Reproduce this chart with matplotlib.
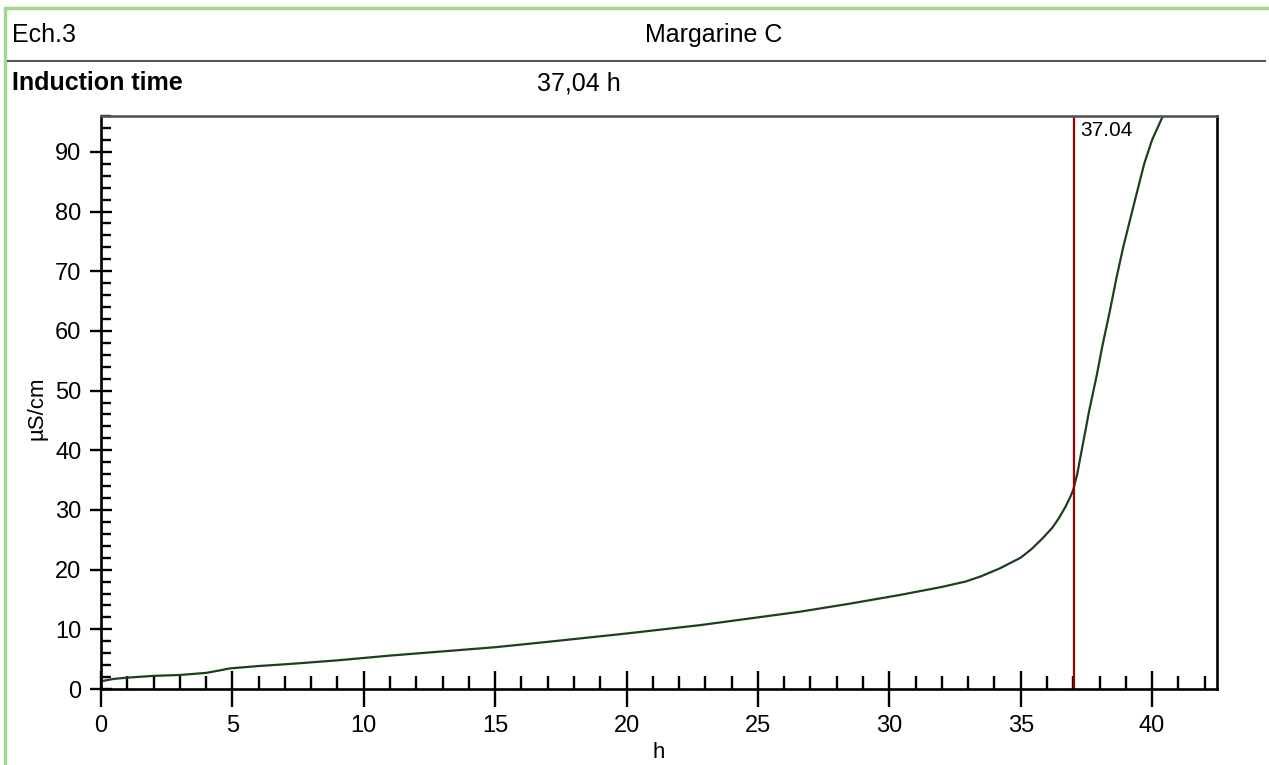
import matplotlib.pyplot as plt
from matplotlib.patches import Rectangle
from matplotlib.lines import Line2D
from matplotlib.ticker import MultipleLocator

plt.rcParams['font.family'] = ['Liberation Sans', 'DejaVu Sans']

# conductivity curve
hours = [0, 0.5, 1, 2, 3, 4, 4.5, 4.9, 6, 7.2, 9, 11, 13, 15, 17, 20, 22.8, 25,
         26.6, 28.5, 30.4, 32, 32.9, 33.5, 34.2, 35, 35.4, 35.8, 36.2, 36.45,
         36.7, 36.9, 37.0, 37.15, 37.3, 37.45, 37.6, 37.75, 37.9, 38.1, 38.4,
         38.65, 38.9, 39.2, 39.4, 39.7, 40.0, 40.4]
conductivity = [1.3, 1.7, 1.9, 2.2, 2.35, 2.7, 3.1, 3.45, 3.85, 4.2, 4.8, 5.6,
                6.3, 7.0, 7.9, 9.3, 10.7, 12.0, 12.95, 14.3, 15.75, 17.1, 18.0,
                18.9, 20.2, 22.0, 23.4, 25.1, 27.0, 28.6, 30.5, 32.3, 33.4,
                36.0, 39.5, 43.0, 46.5, 49.6, 52.7, 57.3, 63.5, 69.0, 74.0,
                79.3, 82.8, 88.0, 92.0, 95.9]
induction_time = 37.04
sample = "Ech.3"
product = "Margarine C"

fig = plt.figure(figsize=(12.69, 7.65), dpi=100)

# green frame round the report
fig.patches.append(Rectangle((5 / 1269, -0.05), 1.2, 1 - 8 / 765 + 0.05,
                             transform=fig.transFigure, fill=False,
                             edgecolor='#a6d68c', linewidth=2.5, zorder=0))
# separator under the header row
fig.lines.append(Line2D([8 / 1269, 1265 / 1269], [1 - 61 / 765, 1 - 61 / 765],
                        transform=fig.transFigure, color='#555555', linewidth=1.5))

fig.text(12 / 1269, 1 - 35 / 765, sample, fontsize=18, va='center', ha='left')
fig.text(645 / 1269, 1 - 35 / 765, product, fontsize=18, va='center', ha='left')
fig.text(12 / 1269, 1 - 83 / 765, "Induction time", fontsize=18,
         fontweight='bold', va='center', ha='left')
fig.text(537 / 1269, 1 - 83 / 765, "37,04 h", fontsize=18, va='center', ha='left')

ax = fig.add_axes([101 / 1269, 76 / 765, 1116 / 1269, 573 / 765])
ax.plot(hours, conductivity, color='#1c401c', linewidth=1.6)
ax.axvline(induction_time, color='#a00000', linewidth=1.6)
ax.text(induction_time + 0.22, 93.6, "37.04", fontsize=15, va='center', ha='left')

ax.set_xlim(0, 42.47)
ax.set_ylim(0, 96)
ax.xaxis.set_major_locator(MultipleLocator(5))
ax.xaxis.set_minor_locator(MultipleLocator(1))
ax.yaxis.set_major_locator(MultipleLocator(10))
ax.yaxis.set_minor_locator(MultipleLocator(2))

ax.tick_params(axis='x', which='major', direction='inout', length=26, width=1.7,
               labelsize=17, pad=6)
ax.tick_params(axis='x', which='minor', direction='in', length=9.5, width=1.7)
ax.tick_params(axis='y', which='major', direction='inout', length=16, width=1.7,
               labelsize=17, pad=6)
ax.tick_params(axis='y', which='minor', direction='in', length=7.5, width=1.7)

for side in ['left', 'bottom', 'right']:
    ax.spines[side].set_color('black')
    ax.spines[side].set_linewidth(1.9)
ax.spines['top'].set_color('#555555')
ax.spines['top'].set_linewidth(1.9)

fig.text(37 / 1269, 1 - 408 / 765, "µS/cm", rotation=90, fontsize=16,
         va='center', ha='center')
fig.text(659 / 1269, 1 - 752 / 765, "h", fontsize=16, va='center', ha='center')

fig.savefig("out.png", dpi=100)
